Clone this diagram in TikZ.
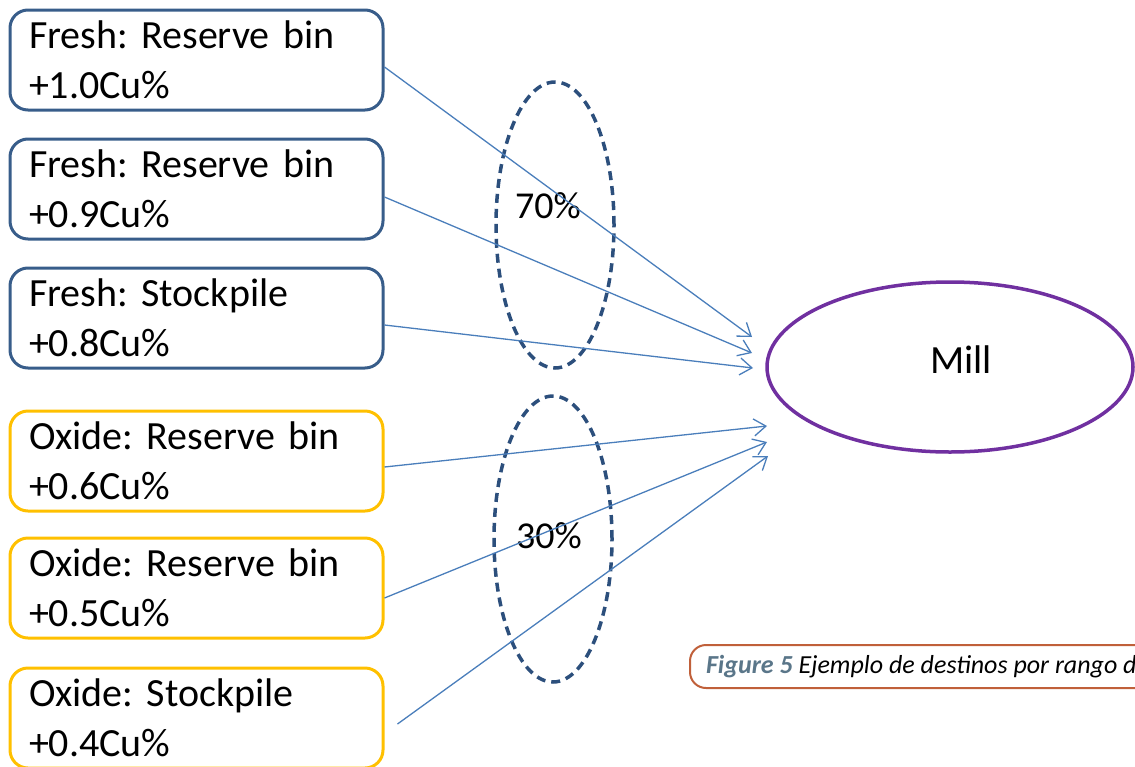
\documentclass[tikz,border=0pt]{standalone}
\usepackage{fontspec}
\setmainfont{Carlito}
\usetikzlibrary{shapes.geometric,arrows.meta}
\definecolor{freshblue}{HTML}{385D8A}
\definecolor{oxidegold}{HTML}{FFC000}
\definecolor{flowblue}{HTML}{4A7EBB}
\definecolor{groupblue}{HTML}{2C4F7C}
\definecolor{millpurple}{HTML}{7030A0}
\definecolor{capred}{HTML}{C0603A}
\definecolor{capgray}{HTML}{5A7689}
\frenchspacing
\begin{document}
\begin{tikzpicture}[x=1pt,y=-1pt,
 bin/.style={draw,line width=3pt,rounded corners=18pt,minimum width=373pt,minimum height=100pt,
  inner xsep=17pt,text width=335pt,align=left,font=\fontsize{40}{50}\selectfont},
 fresh/.style={bin,freshblue,text=black},
 oxide/.style={bin,oxidegold,text=black},
 group/.style={ellipse,draw=groupblue,line width=3.5pt,dash pattern=on 9pt off 6pt,minimum width=118pt,minimum height=286pt},
 pct/.style={font=\fontsize{38}{38}\selectfont},
 flow/.style={flowblue,line width=1.3pt,-{Straight Barb[length=12pt,width=17pt]}}]
 \useasboundingbox (0,0) rectangle (1135,766);
 \clip (0,0) rectangle (1135,766);
 % sources
 \node[fresh] (f1) at (196.5,60) {Fresh: Reserve bin\\+1.0Cu\%};
 \node[fresh] (f2) at (196.5,189) {Fresh: Reserve bin\\+0.9Cu\%};
 \node[fresh] (f3) at (196.5,318) {Fresh: Stockpile\\+0.8Cu\%};
 \node[oxide] (o1) at (196.5,461) {Oxide: Reserve bin\\+0.6Cu\%};
 \node[oxide] (o2) at (196.5,588) {Oxide: Reserve bin\\+0.5Cu\%};
 \node[oxide] (o3) at (196.5,718) {Oxide: Stockpile\\+0.4Cu\%};
 % blend groups
 \node[group] (g1) at (555,225) {};
 \node[group] (g2) at (553,539) {};
 \node[pct] (p1) at (548,206) {70\%};
 \node[pct] (p2) at (549,536) {30\%};
 % mill
 \node[ellipse,draw=millpurple,line width=3.5pt,minimum width=366pt,minimum height=170pt,
  label={[font=\fontsize{40}{40}\selectfont,xshift=11pt,yshift=7pt]center:Mill}] (mill) at (950,367) {};
 \coordinate (e1) at (752,337);
 \coordinate (e2) at (752,353);
 \coordinate (e3) at (753,368);
 \coordinate (e4) at (767,426);
 \coordinate (e5) at (767,442);
 \coordinate (e6) at (768,456);
 \draw[flow] ([yshift=-7pt]f1.east) -- (e1);
 \draw[flow] ([yshift=-8pt]f2.east) -- (e2);
 \draw[flow] ([yshift=-7pt]f3.east) -- (e3);
 \draw[flow] ([yshift=-6pt]o1.east) -- (e4);
 \draw[flow] ([yshift=-10pt]o2.east) -- (e5);
 \draw[flow] ([xshift=13pt,yshift=-6pt]o3.east) -- (e6);
 % caption
 \node[draw=capred,line width=2pt,rounded corners=16pt,anchor=west,minimum height=43pt,inner xsep=16pt,
  font=\fontsize{26}{26}\selectfont\itshape] (cap) at (689,666.5)
  {\makebox[500pt][l]{\textcolor{capgray}{\bfseries Figure 5} Ejemplo de destinos por rango de}};
\end{tikzpicture}
\end{document}
